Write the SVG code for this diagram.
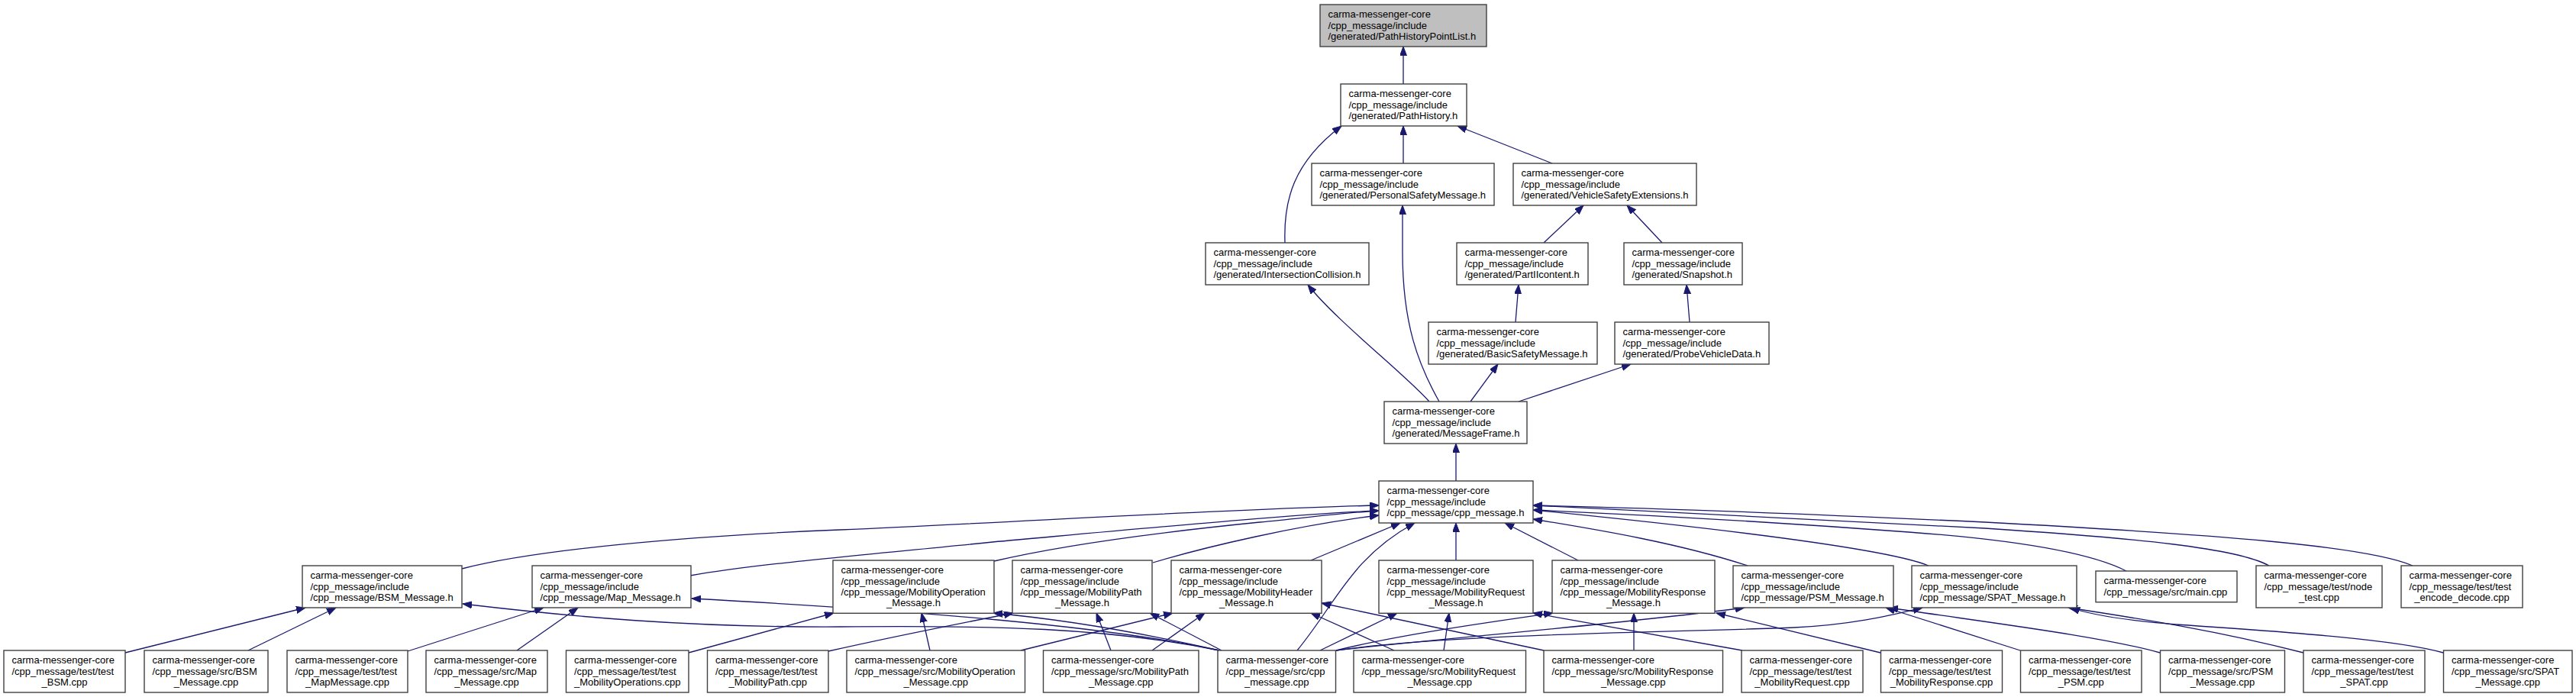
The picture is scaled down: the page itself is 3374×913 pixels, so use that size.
<svg xmlns="http://www.w3.org/2000/svg" width="3374" height="913" viewBox="0 0 3374 913">
<defs>
<style>
.n rect{fill:#fff;stroke:#404040;stroke-width:1.4}
.n.root rect{fill:#bfbfbf}
.n text{font-family:"Liberation Sans",Arial,Helvetica,sans-serif;font-size:13px;fill:#000}
.n text.c{text-anchor:middle}
.e path{fill:none;stroke:#191970;stroke-width:1.3;marker-end:url(#a)}
</style>
<marker id="a" markerWidth="13" markerHeight="10" refX="12" refY="4.5" orient="auto" markerUnits="userSpaceOnUse"><path d="M0,0 L12,4.5 L0,9 z" fill="#191970" stroke="#191970" stroke-width="1"/></marker>
</defs>
<rect width="3374" height="913" fill="#fff"/>

<g id="edges" class="e">
<path d="M1838,110 L1838,61"/>
<path d="M1838,214 L1838,165"/>
<path d="M2033,214 L1909,165"/>
<path d="M1683,318 C1681,262 1694,213 1757,165"/>
<path d="M2022,318 L2074,269"/>
<path d="M2177,318 L2131,269"/>
<path d="M1985,422 L1989,373"/>
<path d="M2213,422 L2209,373"/>
<path d="M1872,526 C1840,490 1750,420 1713,373"/>
<path d="M1885,526 C1858,478 1837,425 1837,330 L1837,269"/>
<path d="M1926,526 L1962,477"/>
<path d="M1989,526 L2136,477"/>
<path d="M1907,630 L1907,581"/>
<path d="M605,745 C700,720 900,702 1100,694 C1350,683 1600,667 1806,662"/>
<path d="M904,754 C980,740 1100,730 1300,710 C1500,692 1700,673 1806,669"/>
<path d="M1302,735 C1400,712 1550,694 1650,684 C1720,677 1770,671 1806,669"/>
<path d="M1510,737 C1580,716 1700,688 1806,675"/>
<path d="M1717,734 L1834,685"/>
<path d="M1699,852 C1750,790 1770,730 1853,685"/>
<path d="M1907,734 L1907,685"/>
<path d="M2067,734 L1971,685"/>
<path d="M2289,741 C2200,712 2100,695 2008,680"/>
<path d="M2526,741 C2480,722 2300,697 2008,668"/>
<path d="M2785,748 C2740,725 2650,708 2500,697 C2300,682 2100,672 2008,668"/>
<path d="M2972,741 C2930,718 2800,705 2600,692 C2300,675 2100,665 2008,662"/>
<path d="M3160,741 C3100,715 2900,700 2600,684 C2300,670 2100,664 2008,662"/>
<path d="M164,855 L400,796"/>
<path d="M325,852 L440,796"/>
<path d="M534,853 L712,796"/>
<path d="M677,852 L757,796"/>
<path d="M1597,852 C1450,822 1300,819 1100,821 C900,822 750,808 606,791"/>
<path d="M1597,852 C1450,820 1200,800 906,784"/>
<path d="M902,855 L1092,803"/>
<path d="M1085,853 C1160,836 1250,818 1327,803"/>
<path d="M1597,852 C1500,830 1400,812 1301,803"/>
<path d="M1218,852 L1207,803"/>
<path d="M1337,852 L1536,803"/>
<path d="M1455,852 L1436,803"/>
<path d="M1509,852 L1578,803"/>
<path d="M1600,852 L1506,803"/>
<path d="M1826,852 L1717,803"/>
<path d="M2022,852 L1731,790"/>
<path d="M1729,852 L1830,803"/>
<path d="M1891,852 L1898,803"/>
<path d="M2282,852 L2008,803"/>
<path d="M1750,852 C1830,832 1950,815 2034,803"/>
<path d="M2140,852 L2140,803"/>
<path d="M2463,855 L2248,803"/>
<path d="M1750,852 C1900,835 2100,820 2285,796"/>
<path d="M1750,852 C1900,830 2200,828 2350,822 C2430,818 2480,805 2518,796"/>
<path d="M2646,852 L2470,796"/>
<path d="M2829,855 C2750,833 2600,815 2474,796"/>
<path d="M3017,855 C2900,825 2800,810 2709,796"/>
<path d="M3200,855 C3140,838 3000,828 2850,818 C2790,813 2740,806 2712,796"/>
</g>

<g id="n0" class="n root"><rect x="1729" y="6" width="218" height="55"/><text x="1739.5" y="23.2">carma-messenger-core</text><text x="1739.5" y="37.5">/cpp_message/include</text><text x="1739.5" y="51.8">/generated/PathHistoryPointList.h</text></g>
<g id="n1" class="n"><rect x="1756" y="110" width="165" height="55"/><text x="1766.5" y="127.2">carma-messenger-core</text><text x="1766.5" y="141.5">/cpp_message/include</text><text x="1766.5" y="155.8">/generated/PathHistory.h</text></g>
<g id="n2" class="n"><rect x="1718" y="214" width="239" height="55"/><text x="1728.5" y="231.2">carma-messenger-core</text><text x="1728.5" y="245.5">/cpp_message/include</text><text x="1728.5" y="259.8">/generated/PersonalSafetyMessage.h</text></g>
<g id="n3" class="n"><rect x="1982" y="214" width="240" height="55"/><text x="1992.5" y="231.2">carma-messenger-core</text><text x="1992.5" y="245.5">/cpp_message/include</text><text x="1992.5" y="259.8">/generated/VehicleSafetyExtensions.h</text></g>
<g id="n4" class="n"><rect x="1579" y="318" width="214" height="55"/><text x="1589.5" y="335.2">carma-messenger-core</text><text x="1589.5" y="349.5">/cpp_message/include</text><text x="1589.5" y="363.8">/generated/IntersectionCollision.h</text></g>
<g id="n5" class="n"><rect x="1908" y="318" width="172" height="55"/><text x="1918.5" y="335.2">carma-messenger-core</text><text x="1918.5" y="349.5">/cpp_message/include</text><text x="1918.5" y="363.8">/generated/PartIIcontent.h</text></g>
<g id="n6" class="n"><rect x="2127" y="318" width="155" height="55"/><text x="2137.5" y="335.2">carma-messenger-core</text><text x="2137.5" y="349.5">/cpp_message/include</text><text x="2137.5" y="363.8">/generated/Snapshot.h</text></g>
<g id="n7" class="n"><rect x="1871" y="422" width="221" height="55"/><text x="1881.5" y="439.2">carma-messenger-core</text><text x="1881.5" y="453.5">/cpp_message/include</text><text x="1881.5" y="467.8">/generated/BasicSafetyMessage.h</text></g>
<g id="n8" class="n"><rect x="2115" y="422" width="202" height="55"/><text x="2125.5" y="439.2">carma-messenger-core</text><text x="2125.5" y="453.5">/cpp_message/include</text><text x="2125.5" y="467.8">/generated/ProbeVehicleData.h</text></g>
<g id="n9" class="n"><rect x="1813" y="526" width="187" height="55"/><text x="1823.5" y="543.2">carma-messenger-core</text><text x="1823.5" y="557.5">/cpp_message/include</text><text x="1823.5" y="571.8">/generated/MessageFrame.h</text></g>
<g id="n10" class="n"><rect x="1806" y="630" width="202" height="55"/><text x="1816.5" y="647.2">carma-messenger-core</text><text x="1816.5" y="661.5">/cpp_message/include</text><text x="1816.5" y="675.8">/cpp_message/cpp_message.h</text></g>

<g id="n11" class="n"><rect x="396" y="741" width="209" height="55"/><text x="406.5" y="758.2">carma-messenger-core</text><text x="406.5" y="772.5">/cpp_message/include</text><text x="406.5" y="786.8">/cpp_message/BSM_Message.h</text></g>
<g id="n12" class="n"><rect x="697" y="741" width="208" height="55"/><text x="707.5" y="758.2">carma-messenger-core</text><text x="707.5" y="772.5">/cpp_message/include</text><text x="707.5" y="786.8">/cpp_message/Map_Message.h</text></g>
<g id="n13" class="n"><rect x="1091" y="734" width="211" height="69.3"/><text x="1101.5" y="751.2">carma-messenger-core</text><text x="1101.5" y="765.5">/cpp_message/include</text><text x="1101.5" y="779.8">/cpp_message/MobilityOperation</text><text class="c" x="1196.5" y="794.1">_Message.h</text></g>
<g id="n14" class="n"><rect x="1326" y="734" width="183" height="69.3"/><text x="1336.5" y="751.2">carma-messenger-core</text><text x="1336.5" y="765.5">/cpp_message/include</text><text x="1336.5" y="779.8">/cpp_message/MobilityPath</text><text class="c" x="1417.5" y="794.1">_Message.h</text></g>
<g id="n15" class="n"><rect x="1534" y="734" width="197" height="69.3"/><text x="1544.5" y="751.2">carma-messenger-core</text><text x="1544.5" y="765.5">/cpp_message/include</text><text x="1544.5" y="779.8">/cpp_message/MobilityHeader</text><text class="c" x="1632.5" y="794.1">_Message.h</text></g>
<g id="n16" class="n"><rect x="1806" y="734" width="202" height="69.3"/><text x="1816.5" y="751.2">carma-messenger-core</text><text x="1816.5" y="765.5">/cpp_message/include</text><text x="1816.5" y="779.8">/cpp_message/MobilityRequest</text><text class="c" x="1907" y="794.1">_Message.h</text></g>
<g id="n17" class="n"><rect x="2033" y="734" width="213" height="69.3"/><text x="2043.5" y="751.2">carma-messenger-core</text><text x="2043.5" y="765.5">/cpp_message/include</text><text x="2043.5" y="779.8">/cpp_message/MobilityResponse</text><text class="c" x="2139.5" y="794.1">_Message.h</text></g>
<g id="n18" class="n"><rect x="2270" y="741" width="210" height="55"/><text x="2280.5" y="758.2">carma-messenger-core</text><text x="2280.5" y="772.5">/cpp_message/include</text><text x="2280.5" y="786.8">/cpp_message/PSM_Message.h</text></g>
<g id="n19" class="n"><rect x="2504" y="741" width="216" height="55"/><text x="2514.5" y="758.2">carma-messenger-core</text><text x="2514.5" y="772.5">/cpp_message/include</text><text x="2514.5" y="786.8">/cpp_message/SPAT_Message.h</text></g>
<g id="n20" class="n"><rect x="2745" y="748" width="185" height="40.7"/><text x="2755.5" y="765.2">carma-messenger-core</text><text x="2755.5" y="779.5">/cpp_message/src/main.cpp</text></g>
<g id="n21" class="n"><rect x="2955" y="741" width="165" height="55"/><text x="2965.5" y="758.2">carma-messenger-core</text><text x="2965.5" y="772.5">/cpp_message/test/node</text><text class="c" x="3037.5" y="786.8">_test.cpp</text></g>
<g id="n22" class="n"><rect x="3145" y="741" width="159" height="55"/><text x="3155.5" y="758.2">carma-messenger-core</text><text x="3155.5" y="772.5">/cpp_message/test/test</text><text class="c" x="3224.5" y="786.8">_encode_decode.cpp</text></g>

<g id="n23" class="n"><rect x="5" y="852" width="159" height="55"/><text x="15.5" y="869.2">carma-messenger-core</text><text x="15.5" y="883.5">/cpp_message/test/test</text><text class="c" x="84.5" y="897.8">_BSM.cpp</text></g>
<g id="n24" class="n"><rect x="189" y="852" width="162" height="55"/><text x="199.5" y="869.2">carma-messenger-core</text><text x="199.5" y="883.5">/cpp_message/src/BSM</text><text class="c" x="270" y="897.8">_Message.cpp</text></g>
<g id="n25" class="n"><rect x="376" y="852" width="158" height="55"/><text x="386.5" y="869.2">carma-messenger-core</text><text x="386.5" y="883.5">/cpp_message/test/test</text><text class="c" x="455" y="897.8">_MapMessage.cpp</text></g>
<g id="n26" class="n"><rect x="558" y="852" width="159" height="55"/><text x="568.5" y="869.2">carma-messenger-core</text><text x="568.5" y="883.5">/cpp_message/src/Map</text><text class="c" x="637.5" y="897.8">_Message.cpp</text></g>
<g id="n27" class="n"><rect x="741.5" y="852" width="160.5" height="55"/><text x="752" y="869.2">carma-messenger-core</text><text x="752" y="883.5">/cpp_message/test/test</text><text class="c" x="821.75" y="897.8">_MobilityOperations.cpp</text></g>
<g id="n28" class="n"><rect x="926.5" y="852" width="158.5" height="55"/><text x="937" y="869.2">carma-messenger-core</text><text x="937" y="883.5">/cpp_message/test/test</text><text class="c" x="1005.75" y="897.8">_MobilityPath.cpp</text></g>
<g id="n29" class="n"><rect x="1109" y="852" width="233.5" height="55"/><text x="1119.5" y="869.2">carma-messenger-core</text><text x="1119.5" y="883.5">/cpp_message/src/MobilityOperation</text><text class="c" x="1225.75" y="897.8">_Message.cpp</text></g>
<g id="n30" class="n"><rect x="1366.5" y="852" width="203.5" height="55"/><text x="1377" y="869.2">carma-messenger-core</text><text x="1377" y="883.5">/cpp_message/src/MobilityPath</text><text class="c" x="1468.25" y="897.8">_Message.cpp</text></g>
<g id="n31" class="n"><rect x="1595" y="852" width="154.5" height="55"/><text x="1605.5" y="869.2">carma-messenger-core</text><text x="1605.5" y="883.5">/cpp_message/src/cpp</text><text class="c" x="1672.25" y="897.8">_message.cpp</text></g>
<g id="n32" class="n"><rect x="1773" y="852" width="225.5" height="55"/><text x="1783.5" y="869.2">carma-messenger-core</text><text x="1783.5" y="883.5">/cpp_message/src/MobilityRequest</text><text class="c" x="1885.75" y="897.8">_Message.cpp</text></g>
<g id="n33" class="n"><rect x="2022" y="852" width="234.5" height="55"/><text x="2032.5" y="869.2">carma-messenger-core</text><text x="2032.5" y="883.5">/cpp_message/src/MobilityResponse</text><text class="c" x="2139.25" y="897.8">_Message.cpp</text></g>
<g id="n34" class="n"><rect x="2281" y="852" width="159" height="55"/><text x="2291.5" y="869.2">carma-messenger-core</text><text x="2291.5" y="883.5">/cpp_message/test/test</text><text class="c" x="2360.5" y="897.8">_MobilityRequest.cpp</text></g>
<g id="n35" class="n"><rect x="2463.5" y="852" width="159" height="55"/><text x="2474" y="869.2">carma-messenger-core</text><text x="2474" y="883.5">/cpp_message/test/test</text><text class="c" x="2543" y="897.8">_MobilityResponse.cpp</text></g>
<g id="n36" class="n"><rect x="2646.5" y="852" width="158.5" height="55"/><text x="2657" y="869.2">carma-messenger-core</text><text x="2657" y="883.5">/cpp_message/test/test</text><text class="c" x="2725.75" y="897.8">_PSM.cpp</text></g>
<g id="n37" class="n"><rect x="2829.5" y="852" width="163" height="55"/><text x="2840" y="869.2">carma-messenger-core</text><text x="2840" y="883.5">/cpp_message/src/PSM</text><text class="c" x="2911" y="897.8">_Message.cpp</text></g>
<g id="n38" class="n"><rect x="3017" y="852" width="159" height="55"/><text x="3027.5" y="869.2">carma-messenger-core</text><text x="3027.5" y="883.5">/cpp_message/test/test</text><text class="c" x="3096.5" y="897.8">_SPAT.cpp</text></g>
<g id="n39" class="n"><rect x="3200.5" y="852" width="168.5" height="55"/><text x="3211" y="869.2">carma-messenger-core</text><text x="3211" y="883.5">/cpp_message/src/SPAT</text><text class="c" x="3284.75" y="897.8">_Message.cpp</text></g>
</svg>
